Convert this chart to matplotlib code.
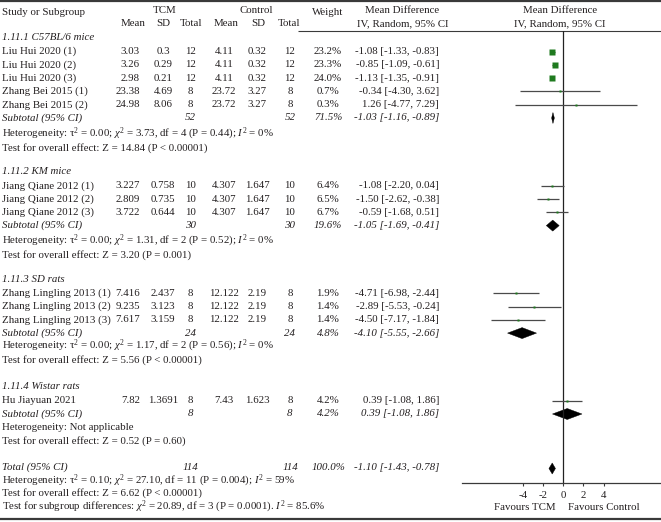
import matplotlib
matplotlib.use("Agg")
import matplotlib.pyplot as plt
from matplotlib.patches import Polygon

plt.rcParams['font.family'] = ['Liberation Serif', 'DejaVu Serif']
plt.rcParams['mathtext.fontset'] = 'custom'
plt.rcParams['mathtext.rm'] = 'Liberation Serif'
plt.rcParams['mathtext.it'] = 'Liberation Serif:italic'
plt.rcParams['mathtext.bf'] = 'Liberation Serif:bold'

# ---------------- data ----------------
group_names = ["1.11.1 C57BL/6 mice", "1.11.2 KM mice", "1.11.3 SD rats", "1.11.4 Wistar rats"]
studies = ["Liu Hui 2020 (1)", "Liu Hui 2020 (2)", "Liu Hui 2020 (3)",
           "Zhang Bei 2015 (1)", "Zhang Bei 2015 (2)",
           "Jiang Qiane 2012 (1)", "Jiang Qiane 2012 (2)", "Jiang Qiane 2012 (3)",
           "Zhang Lingling 2013 (1)", "Zhang Lingling 2013 (2)", "Zhang Lingling 2013 (3)",
           "Hu Jiayuan 2021"]
study_group = [0, 0, 0, 0, 0, 1, 1, 1, 2, 2, 2, 3]
tcm_mean = [3.03, 3.26, 2.98, 23.38, 24.98, 3.227, 2.809, 3.722, 7.416, 9.235, 7.617, 7.82]
tcm_sd = [0.3, 0.29, 0.21, 4.69, 8.06, 0.758, 0.735, 0.644, 2.437, 3.123, 3.159, 1.3691]
tcm_n = [12, 12, 12, 8, 8, 10, 10, 10, 8, 8, 8, 8]
ctl_mean = [4.11, 4.11, 4.11, 23.72, 23.72, 4.307, 4.307, 4.307, 12.122, 12.122, 12.122, 7.43]
ctl_sd = [0.32, 0.32, 0.32, 3.27, 3.27, 1.647, 1.647, 1.647, 2.19, 2.19, 2.19, 1.623]
ctl_n = [12, 12, 12, 8, 8, 10, 10, 10, 8, 8, 8, 8]
weight = [23.2, 23.3, 24.0, 0.7, 0.3, 6.4, 6.5, 6.7, 1.9, 1.4, 1.4, 4.2]
md = [-1.08, -0.85, -1.13, -0.34, 1.26, -1.08, -1.50, -0.59, -4.71, -2.89, -4.50, 0.39]
md_lo = [-1.33, -1.09, -1.35, -4.30, -4.77, -2.20, -2.62, -1.68, -6.98, -5.53, -7.17, -1.08]
md_hi = [-0.83, -0.61, -0.91, 3.62, 7.29, 0.04, -0.38, 0.51, -2.44, -0.24, -1.84, 1.86]

sub_n_tcm = [52, 30, 24, 8]
sub_n_ctl = [52, 30, 24, 8]
sub_weight = [71.5, 19.6, 4.8, 4.2]
sub_md = [-1.03, -1.05, -4.10, 0.39]
sub_lo = [-1.16, -1.69, -5.55, -1.08]
sub_hi = [-0.89, -0.41, -2.66, 1.86]
sub_tau2 = ["0.00", "0.00", "0.00", None]
sub_chi2 = ["3.73", "1.31", "1.17", None]
sub_df = [4, 2, 2, None]
sub_p = ["0.44", "0.52", "0.56", None]
sub_i2 = ["0", "0", "0", None]
sub_effect = ["Z = 14.84 (P < 0.00001)", "Z = 3.20 (P = 0.001)",
              "Z = 5.56 (P < 0.00001)", "Z = 0.52 (P = 0.60)"]

total_n_tcm = 114
total_n_ctl = 114
total_weight = 100.0
total_md, total_lo, total_hi = -1.10, -1.43, -0.78
total_het = r"Heterogeneity: $\mathrm{\tau}^2$ = 0.10; $\chi^2$ = 27.10, df = 11 (P = 0.004); $I^2$ = 59%"
total_effect = "Test for overall effect: Z = 6.62 (P < 0.00001)"
subgroup_diff = r"Test for subgroup differences: $\chi^2$ = 20.89, df = 3 (P = 0.0001). $I^2$ = 85.6%"

tick_values = [-4, -2, 0, 2, 4]
tick_labels = ["-4", "-2", "0", "2", "4"]
favours_left = "Favours TCM"
favours_right = "Favours Control"

# ---------------- layout ----------------
W, H = 661, 522
fig = plt.figure(figsize=(W / 100, H / 100), dpi=100)
tax = fig.add_axes([0, 0, 1, 1])
tax.set_xlim(0, W)
tax.set_ylim(H, 0)
tax.axis('off')

FS = 7.8
TXT = '#231f20'
LINE = '#3a3a3a'


def t(x, y, s, ha='left', style='normal'):
    tax.text(x, y, s, ha=ha, va='center', fontsize=FS, color=TXT, style=style)


def fmt_ci(m, l, h):
    return f"{m:.2f} [{l:.2f}, {h:.2f}]"


# columns (pixels)
X_NAME = 1.5
X_TM, X_TS, X_TN = 140, 163, 190.5
X_CM, X_CS, X_CN = 224, 257, 290
X_W = 328
X_MD = 439

# headers
t(X_NAME, 12.7, "Study or Subgroup")
t(165, 10.7, "TCM", ha='center')
t(256.7, 10.7, "Control", ha='center')
t(X_W, 12.7, "Weight", ha='center')
t(402.5, 10.7, "Mean Difference", ha='center')
t(402.5, 23.5, "IV, Random, 95% CI", ha='center')
t(560, 10.7, "Mean Difference", ha='center')
t(560, 23.5, "IV, Random, 95% CI", ha='center')
for x, s in [(132.7, "Mean"), (163, "SD"), (190.7, "Total"), (226, "Mean"), (258, "SD"), (289, "Total")]:
    t(x, 23.5, s, ha='center')

# border lines
tax.plot([0, W], [1.0, 1.0], color=LINE, lw=1.6, solid_capstyle='butt')
tax.plot([298, W], [30.7, 30.7], color=LINE, lw=0.8, solid_capstyle='butt')
tax.plot([0, W], [518.8, 518.8], color=LINE, lw=1.6, solid_capstyle='butt')

# forest axes
x0_px, x1_px = 461.7, 661.0
top_px, bot_px = 30.7, 482.7
zero_px, ppu = 563.3, 10.05
fax = fig.add_axes([x0_px / W, 1 - bot_px / H, (x1_px - x0_px) / W, (bot_px - top_px) / H])
fax.set_xlim((x0_px - zero_px) / ppu, (x1_px - zero_px) / ppu)
fax.set_ylim(bot_px, top_px)
fax.patch.set_alpha(0)
for sp in ['top', 'left', 'right']:
    fax.spines[sp].set_visible(False)
fax.spines['bottom'].set_color(LINE)
fax.spines['bottom'].set_linewidth(0.9)
fax.set_yticks([])
fax.set_xticks(tick_values)
fax.set_xticklabels(tick_labels, fontsize=FS, color=TXT)
fax.tick_params(axis='x', direction='out', length=2.5, width=0.8, color=LINE, pad=3.5)
fax.axvline(0, color='#222222', lw=0.9)

t(525, 507, favours_left, ha='center')
t(604, 507, favours_right, ha='center')

SQ_GREEN = '#1f7a1f'
CI_GREY = '#4a4a4a'
DIA_H = 11

hdr_y = [37.3, 171.5, 279.0, 386.5]
het_gap = [16.0, 15.5, 13.0, 13.3]
STEP = 13.3

for g, gname in enumerate(group_names):
    y = hdr_y[g]
    t(X_NAME, y, gname, style='italic')
    y += 14.2
    idx = [i for i, sg in enumerate(study_group) if sg == g]
    for k, i in enumerate(idx):
        if k > 0:
            y += STEP
        t(X_NAME, y, studies[i])
        t(X_TM, y, str(tcm_mean[i]), ha='right')
        t(X_TS, y, str(tcm_sd[i]), ha='center')
        t(X_TN, y, str(tcm_n[i]), ha='center')
        t(X_CM, y, str(ctl_mean[i]), ha='center')
        t(X_CS, y, str(ctl_sd[i]), ha='center')
        t(X_CN, y, str(ctl_n[i]), ha='center')
        t(X_W, y, f"{weight[i]:.1f}%", ha='center')
        t(X_MD, y, fmt_ci(md[i], md_lo[i], md_hi[i]), ha='right')
        fax.plot([md_lo[i], md_hi[i]], [y, y], color=CI_GREY, lw=0.9, solid_capstyle='butt')
        side_px = max(2.0, 1.15 * weight[i] ** 0.5)
        fax.plot([md[i]], [y], marker='s', ms=side_px * 0.72, mec='none', mfc=SQ_GREEN)
    y += STEP
    t(X_NAME, y, "Subtotal (95% CI)", style='italic')
    t(X_TN, y, str(sub_n_tcm[g]), ha='center', style='italic')
    t(X_CN, y, str(sub_n_ctl[g]), ha='center', style='italic')
    t(X_W, y, f"{sub_weight[g]:.1f}%", ha='center', style='italic')
    t(X_MD, y, fmt_ci(sub_md[g], sub_lo[g], sub_hi[g]), ha='right', style='italic')
    fax.add_patch(Polygon([(sub_lo[g], y), (sub_md[g], y - DIA_H / 2), (sub_hi[g], y),
                           (sub_md[g], y + DIA_H / 2)], closed=True, fc='black', ec='black', lw=0.3))
    y += het_gap[g]
    if sub_tau2[g] is None:
        t(X_NAME, y, "Heterogeneity: Not applicable")
    else:
        t(X_NAME, y, r"Heterogeneity: $\mathrm{\tau}^2$ = " + sub_tau2[g] + r"; $\chi^2$ = " + sub_chi2[g]
          + f", df = {sub_df[g]} (P = {sub_p[g]}); " + r"$I^2$ = " + sub_i2[g] + "%")
    y += 14
    t(X_NAME, y, "Test for overall effect: " + sub_effect[g])

# total
yT = 467.5
t(X_NAME, yT, "Total (95% CI)", style='italic')
t(X_TN, yT, str(total_n_tcm), ha='center', style='italic')
t(X_CN, yT, str(total_n_ctl), ha='center', style='italic')
t(X_W, yT, f"{total_weight:.1f}%", ha='center', style='italic')
t(X_MD, yT, fmt_ci(total_md, total_lo, total_hi), ha='right', style='italic')
fax.add_patch(Polygon([(total_lo, yT + 1), (total_md, yT + 1 - DIA_H / 2), (total_hi, yT + 1),
                       (total_md, yT + 1 + DIA_H / 2)], closed=True, fc='black', ec='black', lw=0.3))
t(X_NAME, 480.5, total_het)
t(X_NAME, 493.5, total_effect)
t(X_NAME, 506.5, subgroup_diff)

fig.savefig("out.png", dpi=100)
